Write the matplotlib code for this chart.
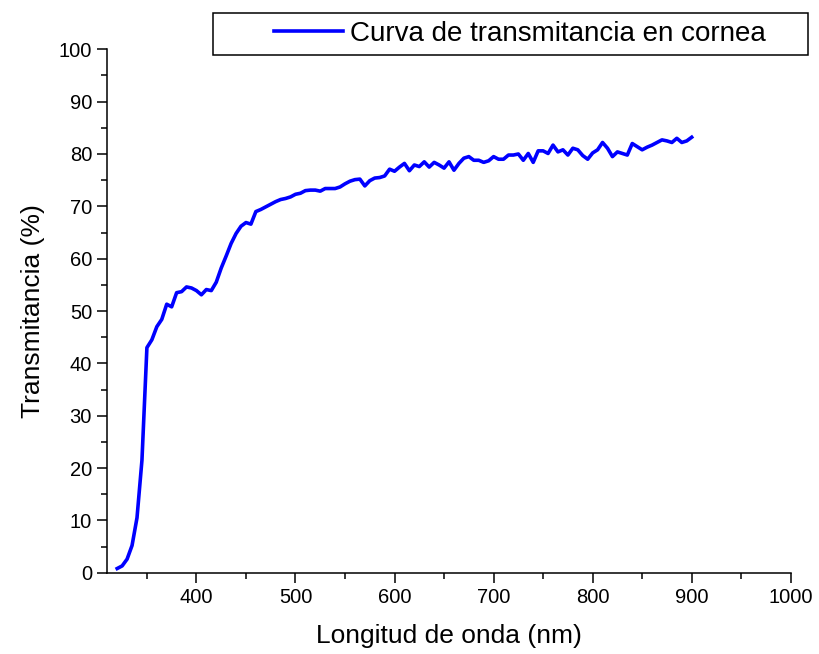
import matplotlib
matplotlib.use("Agg")
import matplotlib.pyplot as plt
from matplotlib.patches import Rectangle
from matplotlib.ticker import MultipleLocator

plt.rcParams['font.family'] = ['Liberation Sans', 'DejaVu Sans']

wavelength = [320, 325, 330, 335, 340, 345, 350, 355, 360, 365, 370, 375, 380, 385, 390, 395,
              400, 405, 410, 415, 420, 425, 430, 435, 440, 445, 450, 455, 460, 465, 470, 475,
              480, 485, 490, 495, 500, 505, 510, 515, 520, 525, 530, 535, 540, 545, 550, 555,
              560, 565, 570, 575, 580, 585, 590, 595, 600, 605, 610, 615, 620, 625, 630, 635,
              640, 645, 650, 655, 660, 665, 670, 675, 680, 685, 690, 695, 700, 705, 710, 715,
              720, 725, 730, 735, 740, 745, 750, 755, 760, 765, 770, 775, 780, 785, 790, 795,
              800, 805, 810, 815, 820, 825, 830, 835, 840, 845, 850, 855, 860, 865, 870, 875,
              880, 885, 890, 895, 900]
transmitance = [0.8, 1.3, 2.6, 5.2, 10.5, 21.5, 43.0, 44.5, 47.0, 48.4, 51.3, 50.8, 53.5, 53.7, 54.6, 54.4,
                53.9, 53.1, 54.1, 53.9, 55.5, 58.2, 60.5, 62.9, 64.8, 66.2, 66.9, 66.6, 69.0, 69.4, 69.9, 70.4,
                70.9, 71.3, 71.5, 71.8, 72.3, 72.5, 73.0, 73.1, 73.1, 72.9, 73.4, 73.4, 73.4, 73.7, 74.3, 74.8,
                75.1, 75.2, 73.9, 74.9, 75.4, 75.5, 75.8, 77.1, 76.7, 77.5, 78.2, 76.8, 77.9, 77.6, 78.5, 77.5,
                78.4, 77.9, 77.3, 78.5, 76.9, 78.2, 79.2, 79.5, 78.8, 78.8, 78.4, 78.7, 79.5, 79.0, 79.0, 79.8,
                79.8, 80.0, 78.8, 80.1, 78.4, 80.6, 80.6, 80.1, 81.7, 80.4, 80.8, 79.8, 81.1, 80.8, 79.7, 79.0,
                80.2, 80.8, 82.2, 81.1, 79.5, 80.4, 80.1, 79.8, 82.0, 81.4, 80.8, 81.3, 81.7, 82.2, 82.7, 82.5,
                82.2, 83.0, 82.2, 82.5, 83.2]

fig = plt.figure(figsize=(8.19, 6.54), dpi=100)
ax = fig.add_axes([0.131, 0.1243, 0.8345, 0.8003])

line, = ax.plot(wavelength, transmitance, color="#0000ff", lw=2.6,
                label="Curva de transmitancia en cornea")

ax.set_xlim(310, 1000)
ax.set_ylim(0, 100)
ax.xaxis.set_major_locator(MultipleLocator(100))
ax.xaxis.set_minor_locator(MultipleLocator(50))
ax.yaxis.set_major_locator(MultipleLocator(10))
ax.yaxis.set_minor_locator(MultipleLocator(5))
ax.set_xticks(range(400, 1001, 100))

for s in ["top", "right"]:
    ax.spines[s].set_visible(False)
for s in ["left", "bottom"]:
    ax.spines[s].set_linewidth(1.1)
ax.tick_params(which="major", direction="out", length=7, width=1.1, labelsize=14.5, pad=4)
ax.tick_params(which="minor", direction="out", length=4, width=1.1)

ax.set_xlabel("Longitud de onda (nm)", fontsize=19, labelpad=12)
ax.set_ylabel("Transmitancia (%)", fontsize=19, labelpad=10)

# legend box sits partly outside the axes, so draw its frame separately
ax.add_patch(Rectangle((213/819, 1-55/654), 595/819, 42/654, transform=fig.transFigure,
                       facecolor="white", edgecolor="black", lw=1.1, clip_on=False, zorder=4))
ax.legend(handles=[line], loc="center left", bbox_to_anchor=(274/819, 1-34/654),
          bbox_transform=fig.transFigure, frameon=False, fontsize=20,
          handlelength=2.5, handletextpad=0.25, borderpad=0, borderaxespad=0)

fig.savefig("out.png", dpi=100)
